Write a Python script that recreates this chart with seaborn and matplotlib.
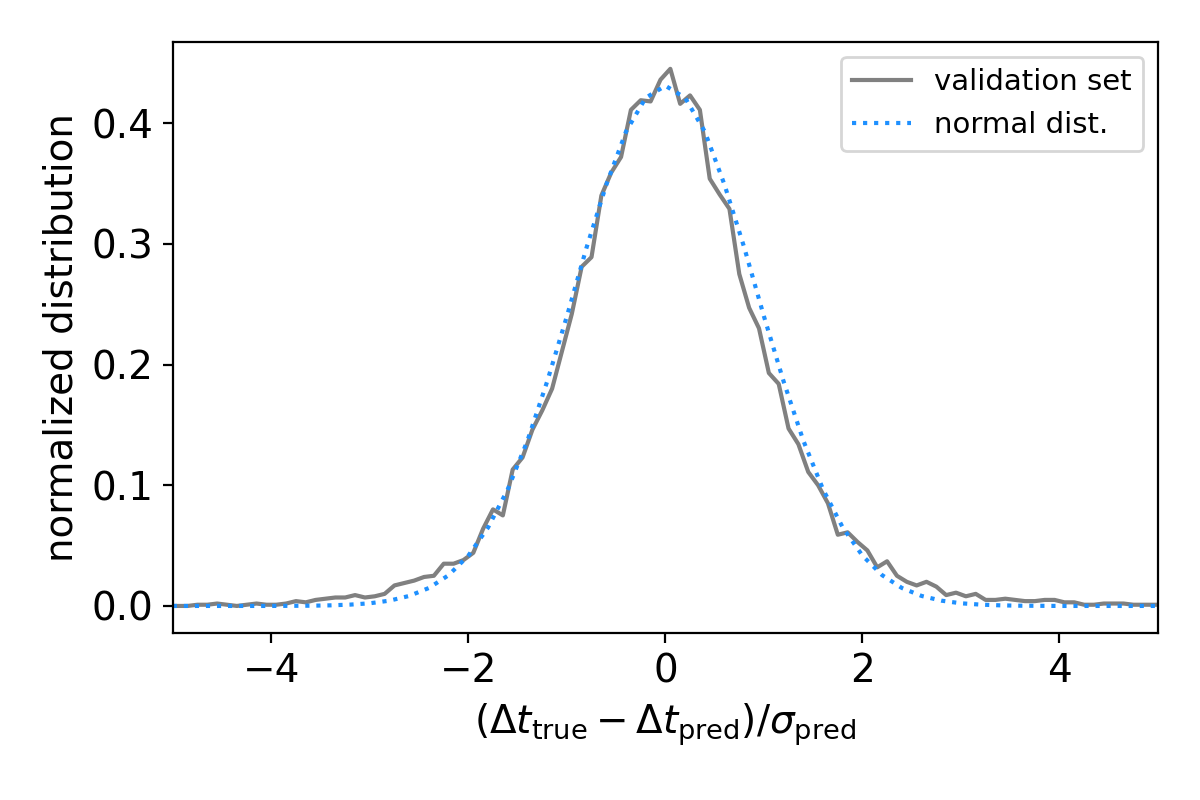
import numpy as np
import pandas as pd
import matplotlib
matplotlib.use("Agg")
import matplotlib.pyplot as plt
import seaborn as sns

# histogram of normalized residuals, bin width 0.1
val_density = [
    0.000,
    0.000, 0.000, 0.001, 0.001, 0.002, 0.001, 0.000, 0.001, 0.002, 0.001,
    0.001, 0.002, 0.004, 0.003, 0.005, 0.006, 0.007, 0.007, 0.009, 0.007,
    0.008, 0.010, 0.017, 0.019, 0.021, 0.024, 0.025, 0.035, 0.035, 0.038,
    0.044, 0.064, 0.080, 0.075, 0.113, 0.123, 0.146, 0.162, 0.180, 0.211,
    0.242, 0.281, 0.289, 0.340, 0.359, 0.372, 0.411, 0.419, 0.418, 0.436,
    0.445, 0.416, 0.423, 0.411, 0.354, 0.341, 0.329, 0.275, 0.247, 0.230,
    0.193, 0.184, 0.147, 0.134, 0.111, 0.100, 0.085, 0.059, 0.061, 0.053,
    0.046, 0.032, 0.037, 0.025, 0.020, 0.017, 0.020, 0.016, 0.009, 0.011,
    0.008, 0.010, 0.005, 0.005, 0.006, 0.005, 0.004, 0.004, 0.005, 0.005,
    0.003, 0.003, 0.001, 0.001, 0.002, 0.002, 0.002, 0.001, 0.001, 0.001,
    0.001,
]
val_x = np.linspace(-5.05, 5.05, len(val_density))

# reference normal curve, sampled every 0.2
norm_x = np.linspace(-5.0, 5.0, 51)
norm_half = [0.0000, 0.0000, 0.0000, 0.0000, 0.0000, 0.0000, 0.0001, 0.0002,
             0.0005, 0.0011, 0.0022, 0.0044, 0.0083, 0.0149, 0.0255, 0.0417,
             0.0650, 0.0966, 0.137, 0.186, 0.240, 0.297, 0.349, 0.393, 0.421]
norm_density = norm_half + [0.431] + norm_half[::-1]

df_val = pd.DataFrame({"x": val_x, "y": val_density})
df_norm = pd.DataFrame({"x": norm_x, "y": norm_density})

fig, ax = plt.subplots(figsize=(6, 4), dpi=200)
fig.subplots_adjust(left=0.144, right=0.965, top=0.9475, bottom=0.209)

sns.lineplot(data=df_val, x="x", y="y", ax=ax, color="grey", lw=1.5,
             label="validation set")
sns.lineplot(data=df_norm, x="x", y="y", ax=ax, color="dodgerblue", lw=1.5,
             linestyle=":", label="normal dist.")

ax.set_xlim(-5, 5)
ax.set_xlabel(r"$(\Delta t_{\rm true} - \Delta t_{\rm pred})/\sigma_{\rm pred}$", fontsize=14)
ax.set_ylabel("normalized distribution", fontsize=14)
ax.tick_params(labelsize=14)
ax.legend(loc="upper right", fontsize=10.5)

fig.savefig("out.png")
